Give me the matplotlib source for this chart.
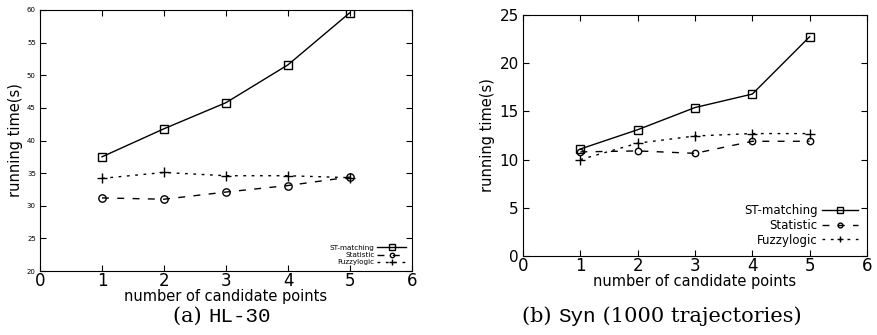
import matplotlib.pyplot as plt

x = [1, 2, 3, 4, 5]

# (a) HL-30
hl_st = [37.5, 41.8, 45.8, 51.6, 59.6]
hl_stat = [31.2, 31.0, 32.1, 33.1, 34.4]
hl_fuzzy = [34.2, 35.1, 34.6, 34.6, 34.3]

# (b) Syn (1000 trajectories)
syn_st = [11.1, 13.1, 15.4, 16.8, 22.75]
syn_stat = [10.8, 10.9, 10.65, 11.9, 11.9]
syn_fuzzy = [10.0, 11.7, 12.45, 12.7, 12.7]

labels = ['ST-matching', 'Statistic', 'Fuzzylogic']

fig = plt.figure(figsize=(8.78, 3.35), dpi=100)
ax1 = fig.add_axes([40 / 878, 1 - 271 / 335, 372 / 878, 261 / 335])
ax2 = fig.add_axes([523 / 878, 1 - 256 / 335, 344 / 878, 241 / 335])


def draw(ax, st, stat, fuzzy, ylim, ytick_fs, leg_fs, ms, mscale, hlen):
    ax.plot(x, st, '-', color='black', lw=1, marker='s', ms=ms, mfc='none', mew=1, label=labels[0])
    ax.plot(x, stat, color='black', lw=1, ls=(0, (5, 6)), marker='o', ms=ms - 1, mfc='none', mew=1, label=labels[1])
    ax.plot(x, fuzzy, color='black', lw=1, ls=(0, (2, 4)), marker='+', ms=ms + 1, mew=1, label=labels[2])
    ax.set_xlim(0, 6)
    ax.set_ylim(*ylim)
    ax.set_xticks(range(0, 7))
    ax.set_yticks(range(ylim[0], ylim[1] + 1, 5))
    ax.tick_params(axis='x', labelsize=12, direction='in', length=4, top=True, pad=1)
    ax.tick_params(axis='y', labelsize=ytick_fs, direction='in', length=4, right=True, pad=3)
    ax.set_xlabel('number of candidate points', fontsize=10.5, labelpad=-1)
    ax.set_ylabel('running time(s)', fontsize=10.5, labelpad=3)
    ax.legend(loc='lower right', fontsize=leg_fs, frameon=False, markerfirst=False,
              handlelength=hlen, handletextpad=0.4, labelspacing=0.15, borderaxespad=0.4,
              markerscale=mscale)


draw(ax1, hl_st, hl_stat, hl_fuzzy, (20, 60), 5, 5.2, 6.3, 0.6, 4.0)
draw(ax2, syn_st, syn_stat, syn_fuzzy, (0, 25), 11, 8.5, 5.6, 0.75, 3.0)


def chain(x0, parts):
    prev = fig.text(x0 / 878, 1 - 316 / 335, parts[0][0], family=parts[0][1], fontsize=15,
                    ha='left', va='center')
    for txt, fam in parts[1:]:
        prev = fig.add_artist(plt.Annotation(txt, xy=(1, 0.5), xycoords=prev, xytext=(0, 0),
                                             textcoords='offset points', family=fam, fontsize=15,
                                             ha='left', va='center'))


chain(173, [('(a) ', 'DejaVu Serif'), ('HL-30', 'Liberation Mono')])
chain(522, [('(b) ', 'DejaVu Serif'), ('Syn', 'Liberation Mono'), (' (1000 trajectories)', 'DejaVu Serif')])

fig.savefig('out.png', dpi=100)
